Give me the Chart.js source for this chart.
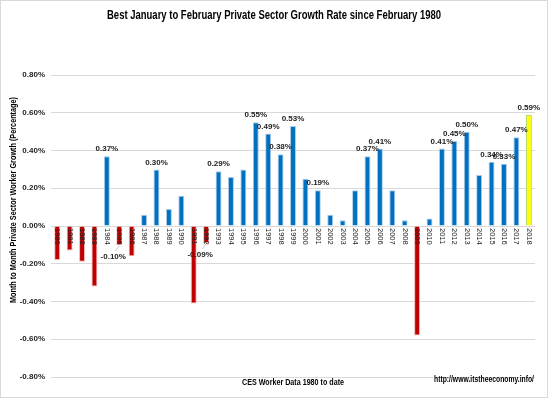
<!DOCTYPE html>
<html>
<head>
<meta charset="utf-8">
<script src="https://cdn.jsdelivr.net/npm/chart.js@4.4.1/dist/chart.umd.min.js"></script>
<style>
  html, body { margin:0; padding:0; background:#fff; }
  #wrap { width:549px; height:399px; position:relative; }
</style>
</head>
<body>
<div id="wrap"><canvas id="c" width="549" height="399"></canvas></div>
<script>
const years = [1980,1981,1982,1983,1984,1985,1986,1987,1988,1989,1990,1991,1992,1993,1994,1995,1996,1997,1998,1999,
               2000,2001,2002,2003,2004,2005,2006,2007,2008,2009,2010,2011,2012,2013,2014,2015,2016,2017,2018];
const growth = [-0.18,-0.13,-0.19,-0.32,0.37,-0.10,-0.16,0.06,0.30,0.09,0.16,-0.41,-0.09,0.29,0.26,0.30,0.55,0.49,0.38,0.53,
                0.25,0.19,0.06,0.03,0.19,0.37,0.41,0.19,0.03,-0.58,0.04,0.41,0.45,0.50,0.27,0.34,0.33,0.47,0.59];
const labelledYears = [1984,1985,1988,1992,1993,1996,1997,1998,1999,2001,2005,2006,2011,2012,2013,2015,2016,2017,2018];
const yTicks = [-0.8,-0.6,-0.4,-0.2,0,0.2,0.4,0.6,0.8];

const FONT = "'Liberation Sans Narrow', 'Liberation Sans', Arial, sans-serif";
const fmt = v => v.toFixed(2) + "%";

const fill = growth.map((v,i) => i === growth.length-1 ? "#FFFF00" : (v < 0 ? "#C00000" : "#0070C0"));
const edge = growth.map((v,i) => i === growth.length-1 ? "#9BC85A" : (v < 0 ? "#F2B8B8" : "#A9CBEA"));

const decor = {
  id: "decor",
  afterDraw(chart) {
    const ctx = chart.ctx;
    const x = chart.scales.x;
    const meta = chart.getDatasetMeta(0);
    ctx.save();
    // category labels, rotated to read top-to-bottom, hung from the zero line
    const zeroY = chart.scales.y.getPixelForValue(0);
    ctx.fillStyle = "#222";
    ctx.font = "7.5px " + FONT;
    ctx.textAlign = "left";
    ctx.textBaseline = "middle";
    years.forEach((yr, i) => {
      ctx.save();
      ctx.translate(x.getPixelForValue(i), zeroY + 2);
      ctx.rotate(Math.PI / 2);
      ctx.fillText(String(yr), 0, 0);
      ctx.restore();
    });
    // data labels
    ctx.font = "bold 8px " + FONT;
    ctx.fillStyle = "#222";
    ctx.textAlign = "center";
    years.forEach((yr, i) => {
      if (!labelledYears.includes(yr)) return;
      const bar = meta.data[i];
      const v = growth[i];
      if (v >= 0) {
        ctx.textBaseline = "bottom";
        ctx.fillText(fmt(v), bar.x, bar.y - 3);
      } else {
        const tx = bar.x - 6, ty = bar.y + 12;
        ctx.strokeStyle = "#bbb";
        ctx.lineWidth = 0.8;
        ctx.beginPath();
        ctx.moveTo(bar.x, bar.y + 1);
        ctx.lineTo(tx + 2, ty - 6);
        ctx.stroke();
        ctx.textBaseline = "middle";
        ctx.fillText(fmt(v), tx, ty);
      }
    });
    // title
    ctx.fillStyle = "#000";
    ctx.font = "bold 13px " + FONT;
    ctx.textAlign = "center";
    ctx.textBaseline = "middle";
    ctx.fillText("Best January to February Private Sector Growth Rate since February 1980", 274, 15, 334);
    // axis titles
    ctx.font = "bold 9px " + FONT;
    ctx.fillText("CES Worker Data 1980 to date", 293, 383, 102);
    ctx.textAlign = "right";
    ctx.fillText("http://www.itstheeconomy.info/", 534, 380, 100);
    ctx.save();
    ctx.translate(14, 200);
    ctx.rotate(-Math.PI / 2);
    ctx.textAlign = "center";
    ctx.fillText("Month to Month Private Sector Worker Growth (Percentage)", 0, 0, 206);
    ctx.restore();
    // outer frame
    ctx.strokeStyle = "#D9D9D9";
    ctx.lineWidth = 1;
    ctx.strokeRect(0.5, 0.5, 547, 397);
    ctx.restore();
  }
};

new Chart(document.getElementById("c"), {
  type: "bar",
  data: {
    labels: years.map(String),
    datasets: [{
      label: "Growth",
      data: growth,
      backgroundColor: fill,
      borderColor: edge,
      borderWidth: 1,
      barPercentage: 0.48,
      categoryPercentage: 1.0
    }]
  },
  options: {
    responsive: false,
    animation: false,
    layout: { padding: { top: 75, right: 14, bottom: 22, left: 0 } },
    plugins: { legend: { display: false }, tooltip: { enabled: false }, title: { display: false } },
    scales: {
      x: { display: false, offset: true },
      y: {
        min: -0.8, max: 0.8,
        afterFit(scale) { scale.width = 51; },
        afterBuildTicks(scale) { scale.ticks = yTicks.map(v => ({ value: v })); },
        ticks: {
          padding: 6,
          color: "#222",
          font: { family: FONT, size: 8, weight: "bold" },
          callback: v => fmt(v)
        },
        grid: { color: "#D9D9D9", lineWidth: 1, drawTicks: false },
        border: { display: false }
      }
    }
  },
  plugins: [decor]
});
</script>
</body>
</html>
